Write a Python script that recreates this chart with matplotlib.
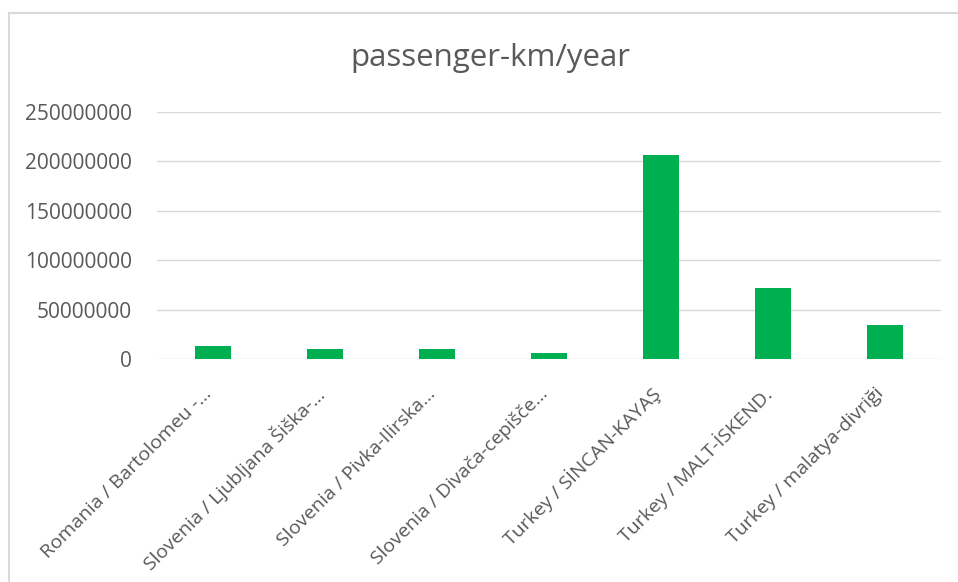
import matplotlib.pyplot as plt
import matplotlib.transforms as mtransforms
from matplotlib.lines import Line2D

plt.rcParams['font.family'] = ['Open Sans', 'DejaVu Sans']

routes = ["Romania / Bartolomeu -…",
          "Slovenia / Ljubljana Šiška-…",
          "Slovenia / Pivka-Ilirska…",
          "Slovenia / Divača-cepišče…",
          "Turkey / SİNCAN-KAYAŞ",
          "Turkey / MALT-İSKEND.",
          "Turkey / malatya-divriği"]
pkm = [13500000, 9800000, 9800000, 5800000, 206500000, 72000000, 34500000]
yticks = [0, 50000000, 100000000, 150000000, 200000000, 250000000]

grey = "#595959"

fig = plt.figure(figsize=(9.58, 5.82), dpi=100)
ax = fig.add_axes([157 / 958, 1 - 359 / 582, 784 / 958, 247 / 582])

x = range(len(routes))
ax.bar(x, pkm, width=0.32, color="#00b050", zorder=3)

ax.set_xlim(-0.5, len(routes) - 0.5)
ax.set_ylim(0, 250000000)
ax.set_yticks(yticks)
ax.set_yticklabels([str(v) for v in yticks], fontsize=15, color=grey)
ax.set_xticks(list(x))
ax.set_xticklabels(routes, rotation=45, ha="right", va="center",
                   rotation_mode="anchor", fontsize=14, color=grey)
ax.tick_params(axis="both", length=0)
ax.tick_params(axis="y", pad=18)
ax.tick_params(axis="x", pad=23)
# nudge the rotated labels a bit to the left
shift = mtransforms.ScaledTranslation(-4 / 100, 0, fig.dpi_scale_trans)
for lbl in ax.get_xticklabels():
    lbl.set_transform(lbl.get_transform() + shift)
ax.grid(axis="y", color="#d9d9d9", linewidth=1, zorder=0)
for s in ax.spines.values():
    s.set_visible(False)

fig.text(490 / 958, 1 - 58 / 582, "passenger-km/year", ha="center", va="center",
         fontsize=22.5, color=grey)

# chart border (only top and left visible in the crop)
fig.add_artist(Line2D([9 / 958, 1], [1 - 13 / 582, 1 - 13 / 582], color="#d9d9d9", lw=1.5))
fig.add_artist(Line2D([9 / 958, 9 / 958], [0, 1 - 13 / 582], color="#d9d9d9", lw=1.5))

fig.savefig("out.png", dpi=100)
